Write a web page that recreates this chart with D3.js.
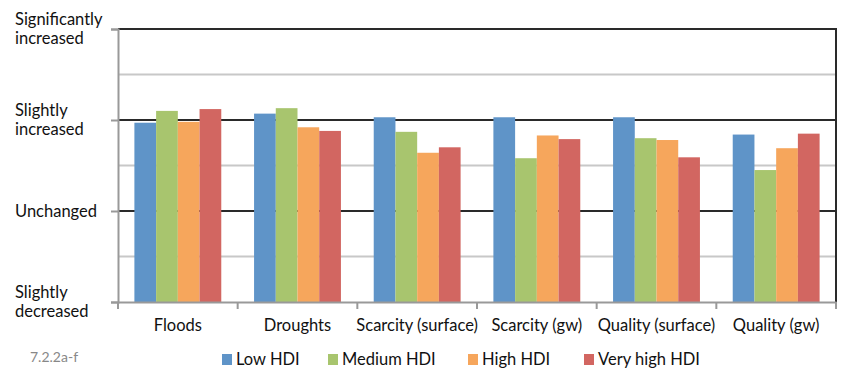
<!DOCTYPE html>
<html>
<head>
<meta charset="utf-8">
<script src="https://cdn.jsdelivr.net/npm/d3@7"></script>
<style>
  html, body { margin: 0; padding: 0; background: #fff; }
  svg { display: block; font-family: Lato, "Open Sans", sans-serif; }
</style>
</head>
<body>
<svg id="chart" width="845" height="374"></svg>
<script>
const categories = ["Floods", "Droughts", "Scarcity (surface)", "Scarcity (gw)", "Quality (surface)", "Quality (gw)"];
const seriesNames = ["Low HDI", "Medium HDI", "High HDI", "Very high HDI"];
const lowHDI      = [1.97, 2.07, 2.03, 2.03, 2.03, 1.84];
const mediumHDI   = [2.10, 2.13, 1.87, 1.58, 1.80, 1.45];
const highHDI     = [1.98, 1.92, 1.64, 1.83, 1.78, 1.69];
const veryHighHDI = [2.12, 1.88, 1.70, 1.79, 1.59, 1.85];
const seriesColors = ["#5f94c8", "#a8c56e", "#f6a65c", "#d26661"];
const yTickValues = [0, 1, 2, 3];
const yTickLabels = [["Slightly", "decreased"], ["Unchanged"], ["Slightly", "increased"], ["Significantly", "increased"]];
const minorTicks = [0.5, 1.5, 2.5];
const footnote = "7.2.2a-f";

const seriesValues = [lowHDI, mediumHDI, highHDI, veryHighHDI];
const svg = d3.select("#chart");
const L = 118, R = 836, T = 29, B = 302;

const x0 = d3.scaleBand().domain(categories).range([L, R]).padding(0);
const gap = x0.bandwidth() * 0.137;
const x1 = d3.scaleBand().domain(seriesNames).range([gap, x0.bandwidth() - gap]).padding(0);
const y = d3.scaleLinear().domain([0, 3]).range([B, T]);

// minor gridlines
svg.append("g").selectAll("line").data(minorTicks).join("line")
  .attr("x1", L).attr("x2", R)
  .attr("y1", d => y(d)).attr("y2", d => y(d))
  .attr("stroke", "#c8c8c8").attr("stroke-width", 2);

// major gridlines (not the bottom axis)
svg.append("g").selectAll("line").data(yTickValues.filter(v => v > 0)).join("line")
  .attr("x1", L).attr("x2", R)
  .attr("y1", d => y(d)).attr("y2", d => y(d))
  .attr("stroke", "#2a2a2a").attr("stroke-width", 2);

// bars
const groups = svg.append("g").selectAll("g").data(categories).join("g")
  .attr("transform", c => `translate(${x0(c)},0)`);
groups.selectAll("rect")
  .data((c, ci) => seriesNames.map((s, si) => ({ s, si, v: seriesValues[si][ci] })))
  .join("rect")
  .attr("x", d => x1(d.s))
  .attr("width", x1.bandwidth())
  .attr("y", d => y(d.v))
  .attr("height", d => y(0) - y(d.v))
  .attr("fill", d => seriesColors[d.si]);

// right border
svg.append("line").attr("x1", R).attr("x2", R).attr("y1", T - 1).attr("y2", B + 1)
  .attr("stroke", "#2a2a2a").attr("stroke-width", 2);

// y axis
const yAxis = d3.axisLeft(y).tickValues(yTickValues).tickSize(7).tickFormat("");
const gy = svg.append("g").attr("transform", `translate(${L},0)`).call(yAxis);
gy.select(".domain").attr("stroke", "#999").attr("stroke-width", 2);
gy.selectAll(".tick line").attr("stroke", "#999").attr("stroke-width", 2);

// y labels
const ylab = svg.append("g").selectAll("text").data(yTickValues).join("text")
  .attr("x", 15)
  .attr("font-size", 16.5)
  .attr("fill", "#111");
ylab.each(function (v, i) {
  const lines = yTickLabels[i];
  const lh = 19;
  const start = y(v) - (lines.length - 1) * lh / 2 + 5.5;
  d3.select(this).selectAll("tspan").data(lines).join("tspan")
    .attr("x", 15).attr("y", (d, k) => start + k * lh).text(d => d);
});

// x axis
const xAxis = d3.axisBottom(x0).tickSize(0).tickPadding(17);
const gx = svg.append("g").attr("transform", `translate(0,${B})`).call(xAxis);
gx.select(".domain").attr("stroke", "#999").attr("stroke-width", 2);
gx.selectAll("text").attr("font-size", 16.5).attr("fill", "#111").attr("font-family", "Lato, 'Open Sans', sans-serif");
// x boundary ticks
const bounds = categories.map(c => x0(c)).concat([R]);
svg.append("g").selectAll("line").data(bounds).join("line")
  .attr("x1", d => d).attr("x2", d => d).attr("y1", B).attr("y2", B + 7)
  .attr("stroke", "#999").attr("stroke-width", 2);

// legend
const legendX = [222, 328, 468, 584];
const lg = svg.append("g").selectAll("g").data(seriesNames).join("g")
  .attr("transform", (d, i) => `translate(${legendX[i]},354)`);
lg.append("rect").attr("width", 10).attr("height", 11).attr("fill", (d, i) => seriesColors[i]);
lg.append("text").attr("x", 14).attr("y", 11).attr("font-size", 16.5).attr("fill", "#111").text(d => d);

// footnote
svg.append("text").attr("x", 30).attr("y", 362).attr("font-size", 14).attr("fill", "#888").text(footnote);
</script>
</body>
</html>
